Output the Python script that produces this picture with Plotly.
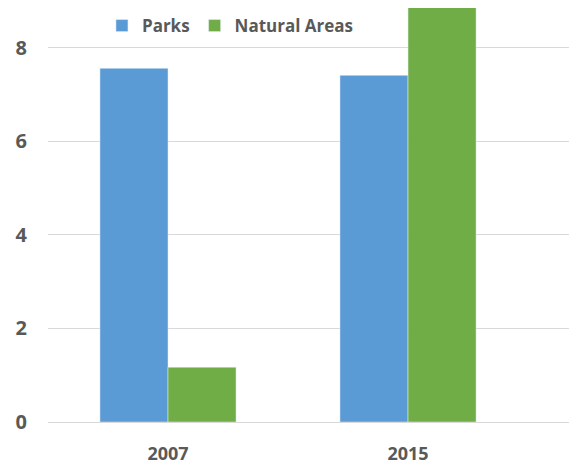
import plotly.graph_objects as go

years = ["2007", "2015"]
parks = [7.56, 7.41]
natural_areas = [1.17, 9.6]
y_ticks = [0, 2, 4, 6, 8]

font_family = "Open Sans"
label_color = "#595959"


def main():
    fig = go.Figure()
    fig.add_trace(go.Bar(name="Parks", x=years, y=parks, marker_color="#5B9BD5"))
    fig.add_trace(go.Bar(name="Natural Areas", x=years, y=natural_areas, marker_color="#70AD47"))

    # page body has an 8px margin, so the figure is drawn 8px smaller
    fig.update_layout(
        width=569,
        height=457,
        margin=dict(l=40, r=0, t=0, b=40),
        paper_bgcolor="white",
        plot_bgcolor="white",
        barmode="group",
        bargap=0.433,
        bargroupgap=0,
        font=dict(family=font_family, color=label_color, size=18),
        legend=dict(
            orientation="h",
            x=0.102, y=1.0, xanchor="left", yanchor="top",
            bgcolor="rgba(0,0,0,0)",
            font=dict(size=17, family=font_family, color=label_color, weight="bold"),
            itemwidth=30,
        ),
        showlegend=True,
    )
    fig.update_xaxes(
        type="category",
        range=[-0.5, 1.704],
        showgrid=False,
        showline=False,
        tickfont=dict(size=18, weight="bold"),
        ticklabelstandoff=19,
    )
    fig.update_yaxes(
        range=[0, 8.85],
        tickvals=y_ticks,
        showgrid=True,
        gridcolor="#D9D9D9",
        gridwidth=1,
        zeroline=True,
        zerolinecolor="#D9D9D9",
        zerolinewidth=1,
        tickfont=dict(size=20, weight="bold"),
        ticklabelstandoff=20,
    )
    fig.write_html("out.html")


main()
